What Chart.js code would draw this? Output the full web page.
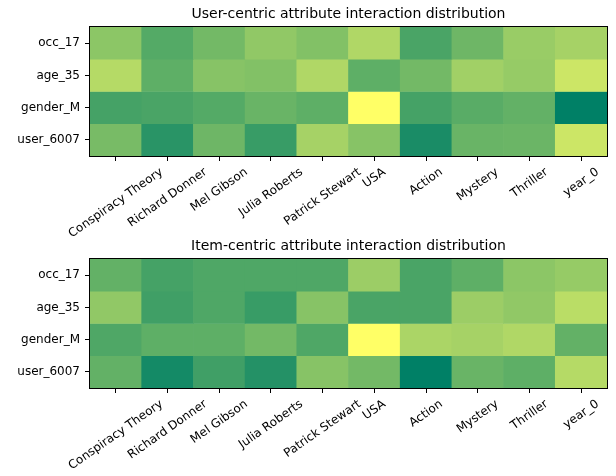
<!DOCTYPE html>
<html>
<head>
<meta charset="utf-8">
<script src="https://cdn.jsdelivr.net/npm/chart.js@4.4.1/dist/chart.umd.min.js"></script>
<style>
  html, body { margin: 0; padding: 0; background: #fff; }
  #wrap { position: relative; width: 616px; height: 476px; overflow: hidden; }
  .box { position: absolute; left: 0; width: 616px; }
</style>
</head>
<body>
<div id="wrap">
  <div class="box" style="top:0;height:252px"><canvas id="userChart" width="616" height="252"></canvas></div>
  <div class="box" style="top:232px;height:244px"><canvas id="itemChart" width="616" height="244"></canvas></div>
</div>
<script>
// columns and rows of both heatmaps
const attributes = ['Conspiracy Theory', 'Richard Donner', 'Mel Gibson', 'Julia Roberts', 'Patrick Stewart',
                    'USA', 'Action', 'Mystery', 'Thriller', 'year_0'];
const rowLabels = ['occ_17', 'age_35', 'gender_M', 'user_6007'];

// user-centric interaction values (0..1)
const userOcc17    = [0.55, 0.33, 0.45, 0.57, 0.51, 0.69, 0.29, 0.43, 0.60, 0.65];
const userAge35    = [0.71, 0.37, 0.53, 0.51, 0.69, 0.37, 0.45, 0.63, 0.59, 0.80];
const userGenderM  = [0.27, 0.29, 0.33, 0.41, 0.37, 1.00, 0.27, 0.35, 0.39, 0.00];
const userUser6007 = [0.47, 0.16, 0.43, 0.22, 0.65, 0.53, 0.10, 0.41, 0.42, 0.80];

// item-centric interaction values
const itemOcc17    = [0.39, 0.27, 0.31, 0.31, 0.31, 0.61, 0.29, 0.37, 0.55, 0.59];
const itemAge35    = [0.57, 0.25, 0.31, 0.22, 0.53, 0.29, 0.29, 0.61, 0.57, 0.73];
const itemGenderM  = [0.31, 0.37, 0.37, 0.45, 0.31, 1.00, 0.67, 0.65, 0.69, 0.39];
const itemUser6007 = [0.39, 0.08, 0.25, 0.14, 0.53, 0.45, 0.00, 0.41, 0.37, 0.71];

// matplotlib 'summer' colormap
function summer(t) {
    return 'rgb(' + Math.round(255 * t) + ',' + Math.round(255 * (0.5 + 0.5 * t)) + ',102)';
}

const FONT = '"DejaVu Sans", sans-serif';
const PLOT_BOTTOM = 156; // bottom of the plot area inside each canvas

// frame, centred title and rotated x labels (matplotlib style)
const heatmapDecor = {
    id: 'heatmapDecor',
    afterDraw(chart, args, opts) {
        const ctx = chart.ctx;
        const a = chart.chartArea;
        ctx.save();
        ctx.strokeStyle = '#000';
        ctx.lineWidth = 1;
        ctx.strokeRect(Math.round(a.left) - 0.5, Math.round(a.top) - 0.5,
                       Math.round(a.right - a.left) + 1, Math.round(a.bottom - a.top) + 1);

        ctx.fillStyle = '#000';
        ctx.textAlign = 'center';
        ctx.textBaseline = 'middle';
        ctx.font = '14px ' + FONT;
        ctx.fillText(opts.title, (a.left + a.right) / 2, 14);

        ctx.font = '12px ' + FONT;
        const xs = chart.scales.x;
        const th = 35 * Math.PI / 180;
        chart.data.labels.forEach((lab, i) => {
            const x = xs.getPixelForTick(i);
            const w = ctx.measureText(lab).width;
            const h = 12;
            const H = w * Math.sin(th) + h * Math.cos(th);
            ctx.save();
            ctx.translate(x, a.bottom + 10 + H / 2);
            ctx.rotate(-th);
            ctx.fillText(lab, 0, 0);
            ctx.restore();
        });
        ctx.restore();
    }
};

function makeHeatmap(canvasId, title, rows) {
    const all = rows.flat();
    const lo = Math.min(...all), hi = Math.max(...all);
    const canvas = document.getElementById(canvasId);
    const canvasHeight = canvas.height;

    return new Chart(canvas.getContext('2d'), {
        type: 'bar',
        data: {
            labels: attributes,
            datasets: rows.map((vals, r) => ({
                label: rowLabels[r],
                data: vals.map(() => [r - 0.5, r + 0.5]),
                backgroundColor: vals.map(v => summer((v - lo) / (hi - lo))),
                borderWidth: 0,
                barPercentage: 1,
                categoryPercentage: 1,
                grouped: false
            }))
        },
        options: {
            responsive: false,
            animation: false,
            layout: { padding: { top: 27, right: 9, left: 0, bottom: 0 } },
            scales: {
                x: {
                    type: 'category',
                    offset: true,
                    ticks: { display: false },
                    grid: { drawOnChartArea: false, offset: false, tickLength: 5, tickColor: '#000', tickWidth: 1 },
                    border: { display: false },
                    afterFit: s => { s.height = canvasHeight - PLOT_BOTTOM; }
                },
                y: {
                    type: 'linear',
                    min: -0.5,
                    max: 3.5,
                    reverse: true,
                    afterBuildTicks: s => { s.ticks = rowLabels.map((_, i) => ({ value: i })); },
                    ticks: {
                        callback: v => rowLabels[v],
                        color: '#000',
                        padding: 5,
                        font: { family: FONT, size: 12 }
                    },
                    grid: { drawOnChartArea: false, tickLength: 5, tickColor: '#000', tickWidth: 1 },
                    border: { display: false },
                    afterFit: s => { s.width = 90; }
                }
            },
            plugins: {
                legend: { display: false },
                tooltip: { enabled: false },
                heatmapDecor: { title: title }
            }
        },
        plugins: [heatmapDecor]
    });
}

makeHeatmap('userChart', 'User-centric attribute interaction distribution',
            [userOcc17, userAge35, userGenderM, userUser6007]);
makeHeatmap('itemChart', 'Item-centric attribute interaction distribution',
            [itemOcc17, itemAge35, itemGenderM, itemUser6007]);
</script>
</body>
</html>
